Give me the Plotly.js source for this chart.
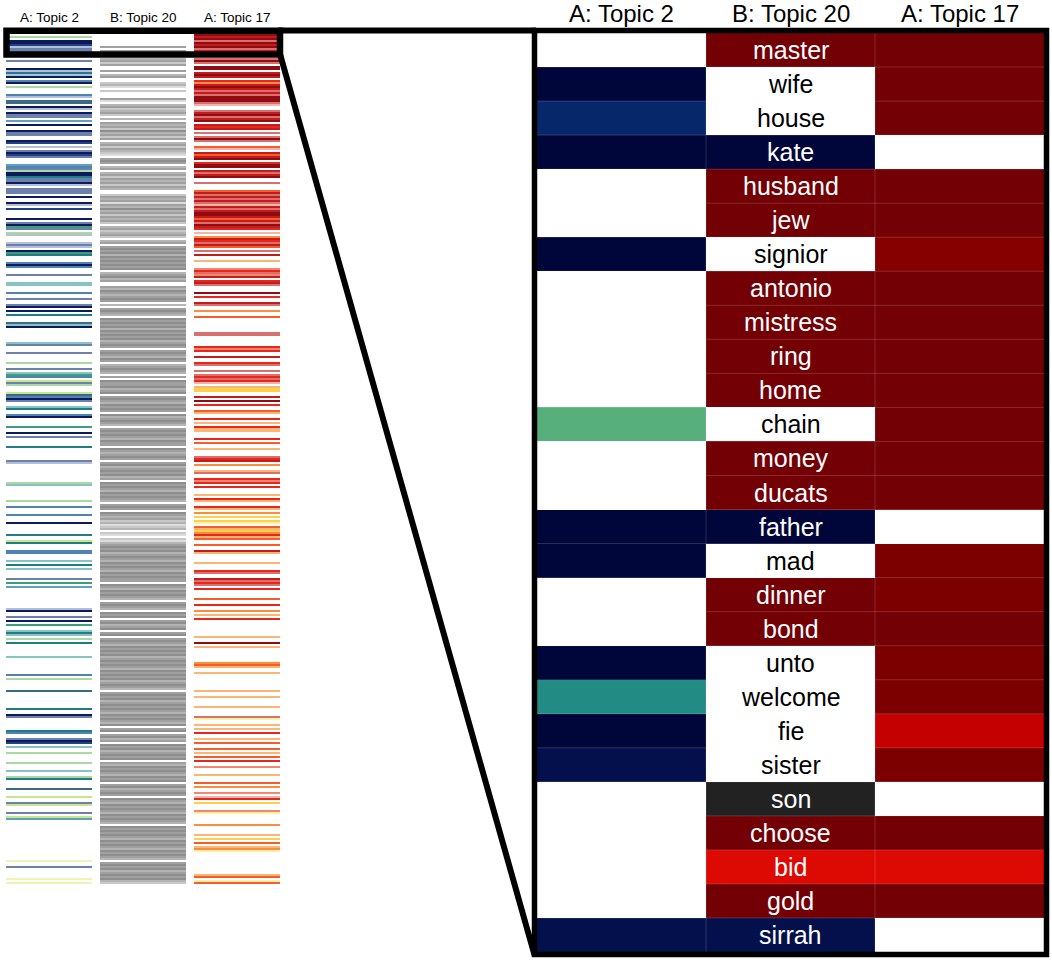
<!DOCTYPE html>
<html><head><meta charset="utf-8">
<script src="https://cdn.plot.ly/plotly-3.0.1.min.js"></script>
<style>html,body{margin:0;padding:0;background:#fff}#chart{width:1052px;height:974px}</style>
</head><body><div id="chart"></div>
<script>
// ---------- DATA ----------
const columnTitles = ['A: Topic 2', 'B: Topic 20', 'A: Topic 17'];

// Overview strip: one character per ranked word bin ('.' = not in topic)
const topic2Rows = [
  ".H.NNBQPP....P...NQTQN.SN", ".H...SQ.DD.NQ.NPP.E.N..NP", "P..NB.Q.PNBP...ESPHNNTPPN",
  "Q.PPP.N..NQ.B....N.PNGP.H", "Q...QPQ.NGT...SNS...P...L", "L...S..P..PN.N.T...DLN...",
  "....LP...P....H..P.LGS.YP", "H...YDSNP..LT..SN....G..N", ".P....T......PQ.........H",
  "L.......H..S...S...N.....", "T..YT...SS...L.T.L....P.G", ".E..........QN..P.N.G..LT",
  "L.H.T......L........S.H..", "...D........T..NP......TS", "..PNB.L..H....H...L..HT..",
  "..D...Y..PY...P.YE.......", ".............W..P.....W.W"
];
const topic20Rows = [
  "......b.b...cbdb..b.cb..d", "ce.d...be.cbdcbd.c.bcbdac", "bdb.cbdbcde.bab.cb.cbdbcb",
  "dbc..dbcbebcacbdbcbd.cbdc", "bd.cb.babacabababa.cbacb.", ".bcabcbab.c.babc.ababacab",
  "abacbab.babcab.cbabc.b.ab", "bacba.babcabab.acbabc.bab", "abcabb.abcbab.bacbabacb.a",
  "babcababc.bab.abcbdcedc.d", "e.decbabacbabcababcababb.", "abcababc.babc.aba.bacba.b",
  "a.babcababacbababcababacb", "abc.babacbababcababca.ba.", "bacb.abacbaba.bcababcaba.",
  "bacbab.abcababcababc.abab", "abcababcababc.babacbabacd"
];
const topic17Rows = [
  "KRKpKRKpR...pKp.KK.RKR.ro", "RKRpRpKKKpq..pRKpRK.RrR.p", ".pKp..Oq.RORK.rKK.RpRK..p",
  "...ORpRpRpqRpRKKRORpKRr.q", ".oRrpRO.p.R..l...srpsR.rR", "p...K.r..Rp..o..O.......p",
  "p.....rsr..R..rp..p.prprq", ".lYY..R.K.r..Ol..r.l.rll.", "..r.O..l...prR.o..lp..rsr",
  ".r...l.rl..rl.o.Y.Yy.OlYo", "rlO..O..Rl....l...rp..Rpr", "p.r....O..r..o.l.r.......",
  ".l..K.l.......oOl..l.....", "...l..l....l....py..l.l.r", "..l.O..O.l.O.r..s...l...O",
  ".o..s.qr.Y...sy.....o....", "l.Y.O.loy...........lO.yO"
];
const topic2Palette = {N:'#0d1b5e', B:'#233f86', P:'#6c80ad', Q:'#b3bfd8', S:'#4f83b5', E:'#5aa2c0',
  D:'#3a6b86', T:'#1f7d85', L:'#86c3c2', G:'#3d9e7c', H:'#a9d8a3', Y:'#c8e68a', W:'#eef5b4'};
const topic20Palette = {a:'#8e8e8e', b:'#a0a0a0', c:'#b4b4b4', d:'#c8c8c8', e:'#dcdcdc'};
const topic17Palette = {K:'#8e0c12', R:'#c41c1c', r:'#e8261c', p:'#d9706e', q:'#f1b3ae', s:'#f7856d',
  O:'#f85c2a', o:'#fb8d3d', l:'#fdb574', Y:'#fecf48', y:'#fff0a6'};

// Zoomed detail: 27 words
const zoomWords = ['master','wife','house','kate','husband','jew','signior','antonio','mistress','ring',
  'home','chain','money','ducats','father','mad','dinner','bond','unto','welcome','fie','sister','son',
  'choose','bid','gold','sirrah'];
const zoomTopic2  = ".nbn..n....g..nn..ntnm....m";
const zoomTopic20 = "R..nRR.RRRR.RRn.RR....kRDRm";
const zoomTopic17 = "RRR.RRSRRRRRRR.MMRMMFM.RDR.";
const zoomPalette = {n:'#00063a', m:'#03104c', b:'#07276b', g:'#57b07b', t:'#218b84', R:'#730005',
  S:'#860000', M:'#7c0000', F:'#c40000', D:'#dc0a03', k:'#222222'};

// ---------- BUILD ----------
const W = 1052, H = 974;
const px = x => x / W, py = y => 1 - y / H;

function buildPalette(maps) {
  const colors = [], index = {};
  maps.forEach((m, ci) => Object.keys(m).forEach(k => { index[ci + ':' + k] = colors.length; colors.push(m[k]); }));
  return {colors, index};
}
function scaleOf(colors) {
  const n = colors.length - 1;
  return colors.map((c, i) => [i / n, c]);
}

const leftPal = buildPalette([topic2Palette, topic20Palette, topic17Palette]);
const cols = [topic2Rows.join(''), topic20Rows.join(''), topic17Rows.join('')];
const nRows = cols[0].length;
const zLeft = [];
for (let r = 0; r < nRows; r++) {
  zLeft.push(cols.map((s, ci) => s[r] === '.' ? null : leftPal.index[ci + ':' + s[r]]));
}

const rightPal = buildPalette([zoomPalette]);
const zCols = [zoomTopic2, zoomTopic20, zoomTopic17];
const zRight = zoomWords.map((w, r) => zCols.map(s => s[r] === '.' ? null : rightPal.index['0:' + s[r]]));

const traces = [
  {type:'heatmap', z:zLeft, x:[0,1,2], y:[...Array(nRows).keys()], xaxis:'x', yaxis:'y',
   colorscale:scaleOf(leftPal.colors), zmin:0, zmax:leftPal.colors.length-1, showscale:false,
   xgap:8, hoverinfo:'skip'},
  {type:'heatmap', z:zRight, x:[0,1,2], y:[...zoomWords.keys()], xaxis:'x2', yaxis:'y2',
   colorscale:scaleOf(rightPal.colors), zmin:0, zmax:rightPal.colors.length-1, showscale:false,
   hoverinfo:'skip'}
];

const hidden = {showgrid:false, zeroline:false, showticklabels:false, ticks:'', showline:false, fixedrange:true};
const layout = {
  width:W, height:H, margin:{l:0,r:0,t:0,b:0}, paper_bgcolor:'#fff', plot_bgcolor:'rgba(0,0,0,0)',
  showlegend:false,
  xaxis: Object.assign({domain:[px(2), px(284)], range:[-0.5, 2.5]}, hidden),
  yaxis: Object.assign({domain:[py(884), py(34)], range:[nRows-0.5, -0.5]}, hidden),
  xaxis2: Object.assign({domain:[px(537), px(1044)], range:[-0.5, 2.5], anchor:'y2'}, hidden),
  yaxis2: Object.assign({domain:[py(952), py(33)], range:[zoomWords.length-0.5, -0.5], anchor:'x2'}, hidden),
  shapes: [], annotations: []
};

// subtle cell separators in zoom panel
for (let k = 0; k < zoomWords.length - 1; k++) {
  layout.shapes.push({type:'line', xref:'x2', yref:'y2', x0:-0.5, x1:2.5, y0:k+0.5, y1:k+0.5,
    line:{color:'rgba(255,255,255,0.16)', width:1}});
}
[0.5, 1.5].forEach(v => layout.shapes.push({type:'line', xref:'x2', yref:'y2', x0:v, x1:v, y0:-0.5, y1:zoomWords.length-0.5,
  line:{color:'rgba(255,255,255,0.16)', width:1}}));

// zoom frame
const blk = w => ({color:'#000', width:w});
layout.shapes.push({type:'rect', xref:'paper', yref:'paper', x0:px(6.5), x1:px(280), y0:py(54.5), y1:py(30.8), line:blk(6.5), fillcolor:'rgba(0,0,0,0)'});
layout.shapes.push({type:'rect', xref:'paper', yref:'paper', x0:px(534.5), x1:px(1046.5), y0:py(954.5), y1:py(30.5), line:blk(5.5), fillcolor:'rgba(0,0,0,0)'});
layout.shapes.push({type:'line', xref:'paper', yref:'paper', x0:px(278), x1:px(536), y0:py(30.6), y1:py(30.6), line:blk(6)});
layout.shapes.push({type:'line', xref:'paper', yref:'paper', x0:px(280), x1:px(534.5), y0:py(54), y1:py(955), line:blk(6)});

// titles
const leftCenters = [49, 143, 237], rightCenters = [621.5, 790.5, 959.5];
columnTitles.forEach((t, i) => {
  layout.annotations.push({text:t, xref:'paper', yref:'paper', x:px(leftCenters[i]), y:py(17), xanchor:'center', yanchor:'middle',
    showarrow:false, font:{family:'Liberation Sans, Arial, sans-serif', size:13.5, color:'#000'}});
  layout.annotations.push({text:t, xref:'paper', yref:'paper', x:px(rightCenters[i]), y:py(13.5), xanchor:'center', yanchor:'middle',
    showarrow:false, borderpad:0, font:{family:'Liberation Sans, Arial, sans-serif', size:24, color:'#000'}});
});
// words
zoomWords.forEach((w, r) => {
  const dark = zoomTopic20[r] !== '.';
  layout.annotations.push({text:w, xref:'x2', yref:'y2', x:1, y:r, xanchor:'center', yanchor:'middle', showarrow:false,
    font:{family:'Liberation Sans, Arial, sans-serif', size:25, color: dark ? '#fff' : '#000'}});
});

Plotly.newPlot('chart', traces, layout, {displayModeBar:false, staticPlot:true});
</script></body></html>
